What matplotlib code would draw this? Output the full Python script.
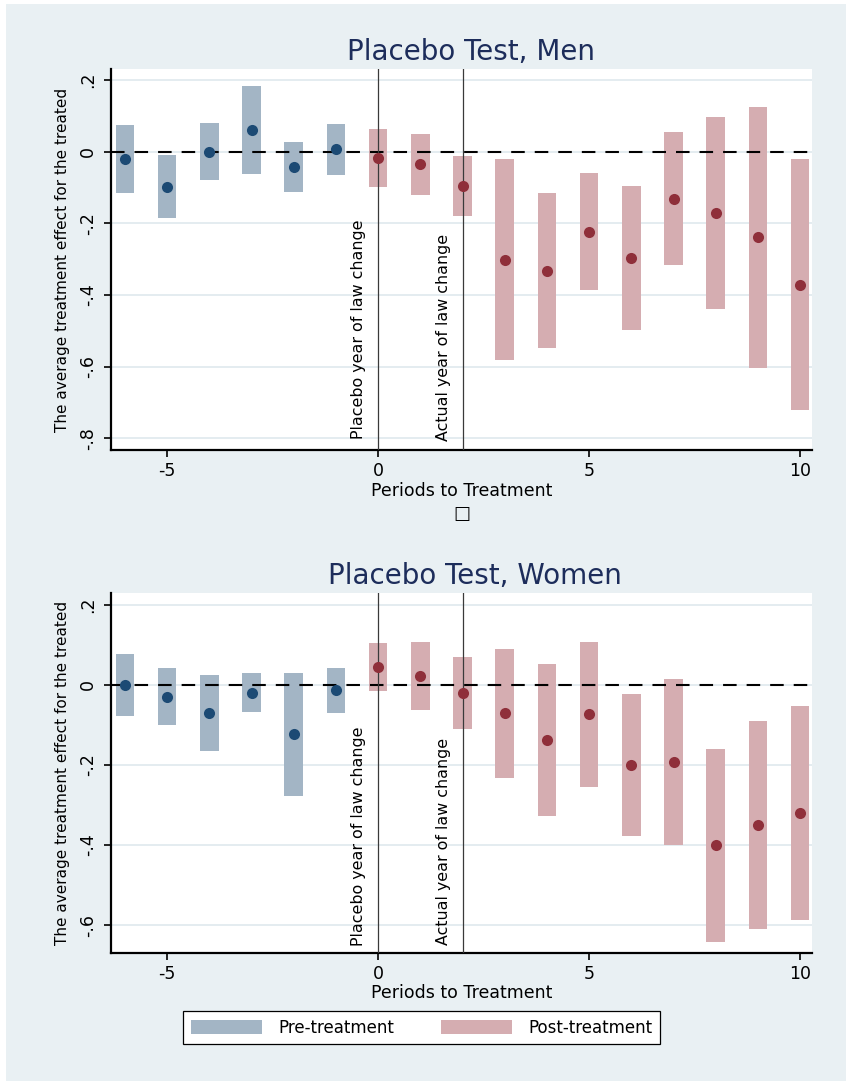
import matplotlib
matplotlib.use('Agg')
import matplotlib.pyplot as plt
from matplotlib.patches import Patch, Rectangle
import numpy as np

# ---------------- data ----------------
periods = [-6, -5, -4, -3, -2, -1, 0, 1, 2, 3, 4, 5, 6, 7, 8, 9, 10]

men_est = [-0.020, -0.098, 0.000, 0.061, -0.043, 0.007, -0.018, -0.035, -0.096,
           -0.301, -0.332, -0.223, -0.297, -0.131, -0.171, -0.239, -0.372]
men_lo = [-0.115, -0.184, -0.078, -0.061, -0.113, -0.065, -0.098, -0.121, -0.179,
          -0.581, -0.547, -0.387, -0.498, -0.317, -0.440, -0.603, -0.722]
men_hi = [0.075, -0.009, 0.079, 0.183, 0.026, 0.078, 0.063, 0.050, -0.012,
          -0.020, -0.116, -0.060, -0.097, 0.054, 0.096, 0.124, -0.020]

women_est = [0.000, -0.029, -0.070, -0.019, -0.123, -0.013, 0.045, 0.022, -0.019,
             -0.071, -0.138, -0.072, -0.200, -0.193, -0.400, -0.350, -0.319]
women_lo = [-0.077, -0.100, -0.164, -0.068, -0.278, -0.069, -0.015, -0.062, -0.109,
            -0.233, -0.327, -0.254, -0.378, -0.399, -0.642, -0.609, -0.588]
women_hi = [0.077, 0.043, 0.025, 0.029, 0.031, 0.042, 0.105, 0.108, 0.071,
            0.090, 0.053, 0.108, -0.022, 0.015, -0.160, -0.091, -0.052]

men_yticks = [0.2, 0.0, -0.2, -0.4, -0.6, -0.8]
men_yticklabels = ['.2', '0', '-.2', '-.4', '-.6', '-.8']
women_yticks = [0.2, 0.0, -0.2, -0.4, -0.6]
women_yticklabels = ['.2', '0', '-.2', '-.4', '-.6']
xticks = [-5, 0, 5, 10]
xticklabels = ['-5', '0', '5', '10']

titles = ['Placebo Test, Men', 'Placebo Test, Women']
xlabel = 'Periods to Treatment'
ylabel = 'The average treatment effect for the treated'
placebo_period = 0
actual_period = 2
placebo_text = 'Placebo year of law change'
actual_text = 'Actual year of law change'
legend_labels = ['Pre-treatment', 'Post-treatment']

# ---------------- style ----------------
BG = '#e9f0f3'
PRE_BAR = '#a3b5c5'
POST_BAR = '#d5adb1'
PRE_DOT = '#1c4a74'
POST_DOT = '#8f2f3a'
TITLE_C = '#1d2d5b'
GRID_C = '#e4ecf0'

plt.rcParams['font.family'] = ['DejaVu Sans']

W, H = 846, 1081
fig = plt.figure(figsize=(W / 100, H / 100), dpi=100)
fig.patch.set_facecolor('white')
fig.patches.append(Rectangle((6 / W, 0), 1 - 6 / W, 1 - 4 / H, transform=fig.transFigure,
                             facecolor=BG, edgecolor='none', zorder=-10))


def px_axes(left, top, right, bottom):
    return fig.add_axes([left / W, 1 - bottom / H, (right - left) / W, (bottom - top) / H])


def draw(ax, est, lo, hi, ylim, yticks, yticklabels, txt_offsets):
    x = np.array(periods)
    est = np.array(est)
    lo = np.array(lo)
    hi = np.array(hi)
    pre = x < placebo_period
    post = ~pre
    ax.set_facecolor('white')
    ax.bar(x[pre], hi[pre] - lo[pre], bottom=lo[pre], width=0.44, color=PRE_BAR, zorder=2)
    ax.bar(x[post], hi[post] - lo[post], bottom=lo[post], width=0.44, color=POST_BAR, zorder=2)
    ax.axhline(0, color='black', lw=1.5, dashes=(6.5, 4.8), zorder=3)
    ax.plot(x[pre], est[pre], 'o', ms=8, color=PRE_DOT, mec='none', zorder=4)
    ax.plot(x[post], est[post], 'o', ms=8, color=POST_DOT, mec='none', zorder=4)
    ax.axvline(placebo_period, color='#3a3a3a', lw=0.9, zorder=3)
    ax.axvline(actual_period, color='#3a3a3a', lw=0.9, zorder=3)

    (px, py), (axx, axy) = txt_offsets
    ax.annotate(placebo_text, xy=(placebo_period, 0), xycoords=('data', 'axes fraction'),
                xytext=(px, py), textcoords='offset points', rotation=90,
                ha='right', va='bottom', fontsize=11.4, zorder=5)
    ax.annotate(actual_text, xy=(actual_period, 0), xycoords=('data', 'axes fraction'),
                xytext=(axx, axy), textcoords='offset points', rotation=90,
                ha='right', va='bottom', fontsize=11.4, zorder=5)

    ax.set_xlim(-6.33, 10.28)
    ax.set_ylim(*ylim)
    ax.set_xticks(xticks, xticklabels)
    ax.set_yticks(yticks, yticklabels)
    ax.set_axisbelow(True)
    ax.grid(axis='y', color=GRID_C, lw=1.4)
    ax.grid(axis='x', visible=False)
    for s in ['top', 'right']:
        ax.spines[s].set_visible(False)
    for s in ['left', 'bottom']:
        ax.spines[s].set_linewidth(1.6)
        ax.spines[s].set_color('black')
    ax.tick_params(axis='x', length=5, width=1.2, pad=4, labelsize=12.5)
    ax.tick_params(axis='y', length=5, width=1.2, pad=5, labelsize=12.5, labelrotation=90)
    for lab in ax.get_yticklabels():
        lab.set_va('center')
    ax.text(-0.0685, 0.5, ylabel, transform=ax.transAxes, rotation=90,
            ha='center', va='center', fontsize=11)


ax1 = px_axes(111, 69, 812, 450)
ax2 = px_axes(111, 593.3, 812, 952.7)

draw(ax1, men_est, men_lo, men_hi, (-0.833, 0.231), men_yticks, men_yticklabels,
     ((-9, 8), (-8, 6.5)))
draw(ax2, women_est, women_lo, women_hi, (-0.669, 0.229), women_yticks, women_yticklabels,
     ((-9, 5), (-8, 5.5)))

fig.text(471 / W, 1 - 52 / H, titles[0], ha='center', va='center', fontsize=20, color=TITLE_C)
fig.text(475 / W, 1 - 576 / H, titles[1], ha='center', va='center', fontsize=20, color=TITLE_C)
fig.text(462 / W, 1 - 491 / H, xlabel, ha='center', va='center', fontsize=12.5)
fig.text(462 / W, 1 - 993 / H, xlabel, ha='center', va='center', fontsize=12.5)
fig.text(461.7 / W, 1 - 514 / H, '\u25a1', ha='center', va='center', fontsize=13)

handles = [Patch(facecolor=PRE_BAR, edgecolor='none', label=legend_labels[0]),
           Patch(facecolor=POST_BAR, edgecolor='none', label=legend_labels[1])]
leg = fig.legend(handles=handles, loc='center', bbox_to_anchor=(421.5 / W, 1 - 1027.7 / H),
                 ncol=2, fontsize=12, frameon=True, fancybox=False, edgecolor='black',
                 framealpha=1, facecolor='white', handlelength=4.3, handleheight=0.96,
                 handletextpad=0.95, columnspacing=2.8, borderpad=0.45)
leg.get_frame().set_linewidth(0.9)

fig.savefig('out.png', dpi=100, facecolor=fig.get_facecolor())
